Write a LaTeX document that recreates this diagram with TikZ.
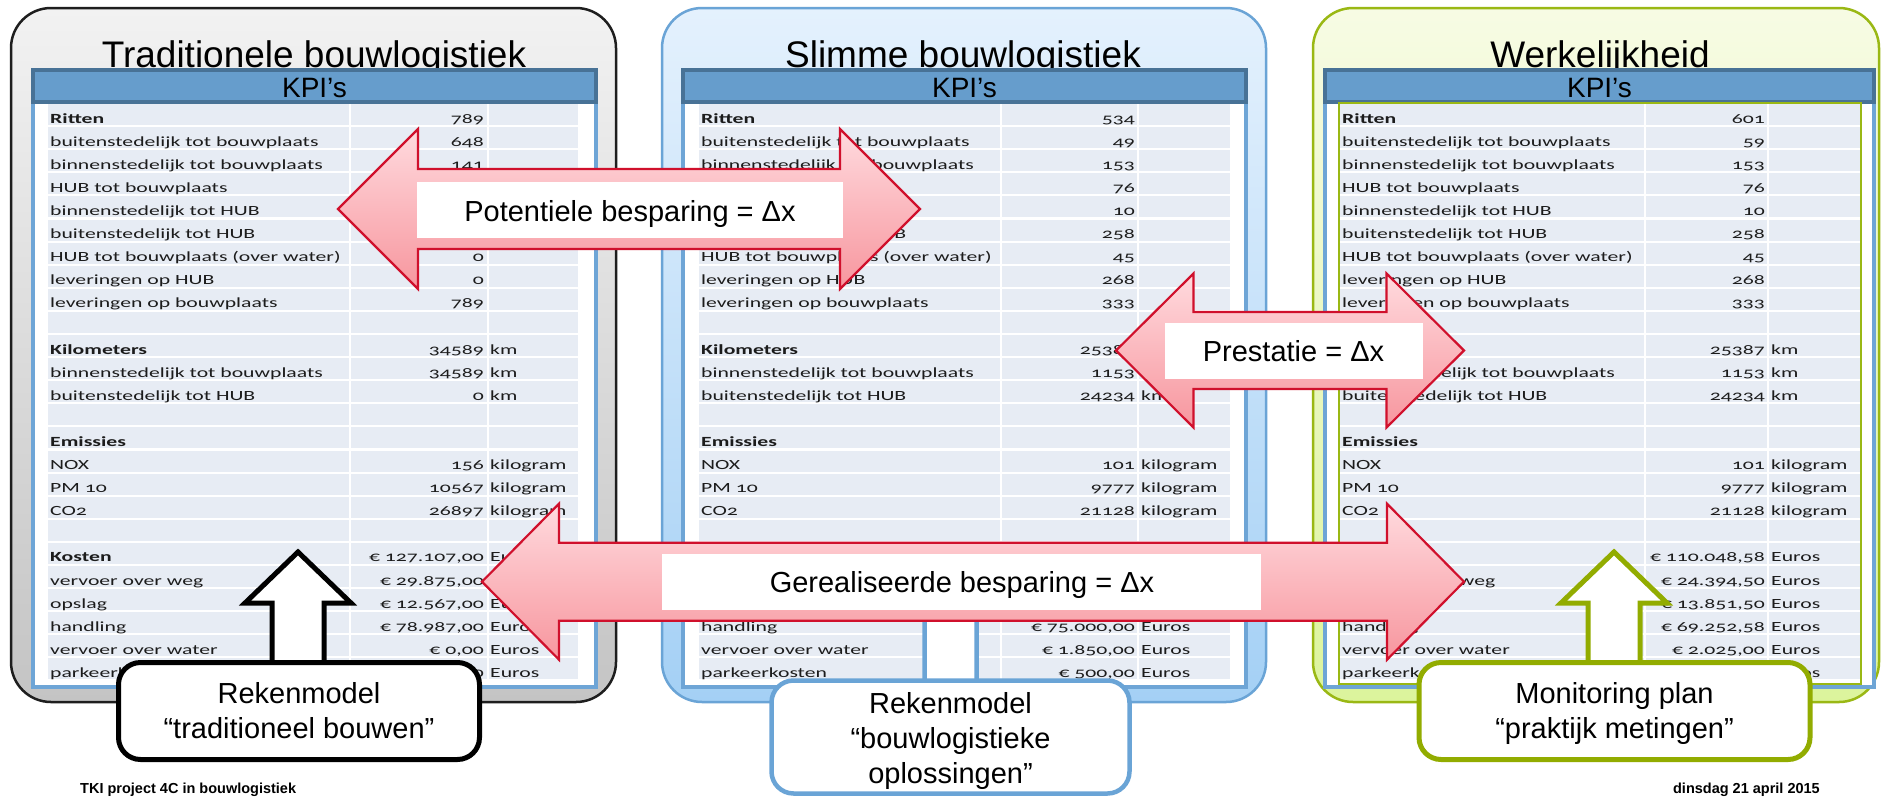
\documentclass[tikz,border=0pt]{standalone}
\usepackage{fontspec}
\setmainfont{Liberation Sans}
\newfontfamily\tblfont[FakeStretch=1.55,Numbers=OldStyle]{Carlito}
\definecolor{arrowred}{RGB}{208,16,44}
\definecolor{pinktop}{RGB}{255,218,222}
\definecolor{pinkbot}{RGB}{247,150,158}
\definecolor{grayedge}{RGB}{30,30,30}
\definecolor{graytop}{RGB}{242,242,242}
\definecolor{graybot}{RGB}{196,196,196}
\definecolor{bluetop}{RGB}{228,241,253}
\definecolor{bluebot}{RGB}{164,208,245}
\definecolor{blueedge}{RGB}{106,164,214}
\definecolor{greentop}{RGB}{247,251,228}
\definecolor{greenbot}{RGB}{220,244,156}
\definecolor{greenedge}{RGB}{154,184,20}
\definecolor{kpifill}{RGB}{102,157,204}
\definecolor{kpiedge}{RGB}{72,114,150}
\definecolor{frameblue}{RGB}{110,165,214}
\definecolor{rowfill}{RGB}{231,236,244}
\definecolor{tbltext}{RGB}{28,28,28}
\definecolor{boxgreen}{RGB}{146,172,0}
\tikzset{
  panel/.style={line width=2.5, rounded corners=40},
  paneltitle/.style={font=\fontsize{37}{40}\selectfont, anchor=base, inner sep=0},
  kpibar/.style={fill=kpifill, draw=kpiedge, line width=3.5},
  kpitext/.style={font=\fontsize{28}{30}\selectfont, anchor=base, inner sep=0},
  tblframe/.style={fill=white, draw=frameblue, line width=4.5},
  lbl/.style={font=\tblfont\fontsize{14}{16}\selectfont, text=tbltext, anchor=base west, inner sep=0},
  num/.style={font=\tblfont\fontsize{14}{16}\selectfont, text=tbltext, anchor=base east, inner sep=0},
  unit/.style={font=\tblfont\fontsize{14}{16}\selectfont, text=tbltext, anchor=base west, inner sep=0},
  dblarrow/.style={draw=arrowred, line width=2.2, top color=pinktop, bottom color=pinkbot, line join=miter},
  whitebox/.style={fill=white, draw=none, inner sep=0},
  arrowlabel/.style={font=\fontsize{29}{32}\selectfont, anchor=base, inner sep=0},
  uparrow/.style={fill=white, line width=5, line join=miter},
  infobox/.style={fill=white, line width=5, rounded corners=22, inner sep=0},
  boxtext/.style={font=\fontsize{29}{35}\selectfont, anchor=base, inner sep=0},
  footer/.style={font=\bfseries\fontsize{14.5}{16}\selectfont, inner sep=0},
}
% grid of table rows: x0, sep1, sep2, x3
\newcommand\kpigrid[4]{%
  \foreach \i in {0,...,24} {\fill[rowfill] (#1,{104+23.1*\i}) rectangle (#4,{104+23.1*\i+21});}
  \draw[white, line width=2.5] (#2,104) -- (#2,681) (#3,104) -- (#3,681);
}
% table row: prefix, index, label, number, unit
\newcommand\kr[5]{%
  \node[lbl] (#1#2l) at (\Lx,{123+23.1*#2}) {#3};
  \node[num] (#1#2n) at (\Nx,{123+23.1*#2}) {#4};
  \node[unit] (#1#2u) at (\Ux,{123+23.1*#2}) {#5};
}
% up arrow: centre x, colour, line width, bottom y
\newcommand\uparr[4]{%
  \draw[uparrow, draw=#2, line width=#3] (#1,552) -- (#1+53,603) -- (#1+26,603) -- (#1+26,#4) -- (#1-26,#4) -- (#1-26,603) -- (#1-53,603) -- cycle;
}
% double arrow: xl, xr, cy, head width, head half height, shaft half height
\newcommand\dblarr[6]{%
  \draw[dblarrow] (#1,#3) -- (#1+#4,#3-#5) -- (#1+#4,#3-#6) -- (#2-#4,#3-#6) -- (#2-#4,#3-#5) -- (#2,#3)
    -- (#2-#4,#3+#5) -- (#2-#4,#3+#6) -- (#1+#4,#3+#6) -- (#1+#4,#3+#5) -- cycle;
}
\begin{document}
\begin{tikzpicture}[x=1pt,y=-1pt]
\useasboundingbox (0,0) rectangle (1883,796);
\fill[white] (0,0) rectangle (1883,796);

% ---------- panels ----------
\draw[panel, draw=grayedge, top color=graytop, bottom color=graybot] (11,8) rectangle (616,702);
\draw[panel, draw=blueedge, top color=bluetop, bottom color=bluebot] (662,8) rectangle (1266,702);
\draw[panel, draw=greenedge, top color=greentop, bottom color=greenbot] (1313,8) rectangle (1879,702);

\node[paneltitle] (t1) at (314,67) {Traditionele bouwlogistiek};
\node[paneltitle] (t2) at (963,67) {Slimme bouwlogistiek};
\node[paneltitle] (t3) at (1600,67) {Werkelijkheid};

% ---------- frames and KPI bars ----------
\draw[tblframe] (33,90) rectangle (596,687);
\draw[kpibar] (33,70) rectangle (596,102);
\node[kpitext] (k1) at (314.5,97) {KPI’s};

\draw[tblframe] (683,90) rectangle (1246,687);
\draw[kpibar] (683,70) rectangle (1246,102);
\node[kpitext] (k2) at (964.5,97) {KPI’s};

\draw[tblframe] (1325,90) rectangle (1874,687);
\draw[kpibar] (1325,70) rectangle (1874,102);
\node[kpitext] (k3) at (1599.5,97) {KPI’s};

% ---------- left table ----------
\kpigrid{48}{350}{488}{578}
\def\Lx{50}\def\Nx{484}\def\Ux{490}
\kr{A}{0}{\textbf{Ritten}}{789}{}
\kr{A}{1}{buitenstedelijk tot bouwplaats}{648}{}
\kr{A}{2}{binnenstedelijk tot bouwplaats}{141}{}
\kr{A}{3}{HUB tot bouwplaats}{}{}
\kr{A}{4}{binnenstedelijk tot HUB}{}{}
\kr{A}{5}{buitenstedelijk tot HUB}{}{}
\kr{A}{6}{HUB tot bouwplaats (over water)}{0}{}
\kr{A}{7}{leveringen op HUB}{0}{}
\kr{A}{8}{leveringen op bouwplaats}{789}{}
\kr{A}{10}{\textbf{Kilometers}}{34589}{km}
\kr{A}{11}{binnenstedelijk tot bouwplaats}{34589}{km}
\kr{A}{12}{buitenstedelijk tot HUB}{0}{km}
\kr{A}{14}{\textbf{Emissies}}{}{}
\kr{A}{15}{NOX}{156}{kilogram}
\kr{A}{16}{PM 10}{10567}{kilogram}
\kr{A}{17}{CO2}{26897}{kilogram}
\kr{A}{19}{\textbf{Kosten}}{€ 127.107,00}{Euros}
\kr{A}{20}{vervoer over weg}{€ 29.875,00}{Euros}
\kr{A}{21}{opslag}{€ 12.567,00}{Euros}
\kr{A}{22}{handling}{€ 78.987,00}{Euros}
\kr{A}{23}{vervoer over water}{€ 0,00}{Euros}
\kr{A}{24}{parkeerkosten}{€ 5.678,00}{Euros}

% ---------- middle table ----------
\kpigrid{699}{1001}{1138}{1230}
\def\Lx{701}\def\Nx{1135}\def\Ux{1141}
\kr{B}{0}{\textbf{Ritten}}{534}{}
\kr{B}{1}{buitenstedelijk tot bouwplaats}{49}{}
\kr{B}{2}{binnenstedelijk tot bouwplaats}{153}{}
\kr{B}{3}{}{76}{}
\kr{B}{4}{}{10}{}
\kr{B}{5}{buitenstedelijk tot HUB}{258}{}
\kr{B}{6}{HUB tot bouwplaats (over water)}{45}{}
\kr{B}{7}{leveringen op HUB}{268}{}
\kr{B}{8}{leveringen op bouwplaats}{333}{}
\kr{B}{10}{\textbf{Kilometers}}{25387}{km}
\kr{B}{11}{binnenstedelijk tot bouwplaats}{1153}{km}
\kr{B}{12}{buitenstedelijk tot HUB}{24234}{km}
\kr{B}{14}{\textbf{Emissies}}{}{}
\kr{B}{15}{NOX}{101}{kilogram}
\kr{B}{16}{PM 10}{9777}{kilogram}
\kr{B}{17}{CO2}{21128}{kilogram}
\kr{B}{22}{handling}{€ 75.000,00}{Euros}
\kr{B}{23}{vervoer over water}{€ 1.850,00}{Euros}
\kr{B}{24}{parkeerkosten}{€ 500,00}{Euros}

% ---------- right table ----------
\kpigrid{1340}{1645}{1768}{1860}
\draw[greenedge, line width=2] (1338.5,103) rectangle (1861,684);
\def\Lx{1342}\def\Nx{1765}\def\Ux{1771}
\kr{C}{0}{\textbf{Ritten}}{601}{}
\kr{C}{1}{buitenstedelijk tot bouwplaats}{59}{}
\kr{C}{2}{binnenstedelijk tot bouwplaats}{153}{}
\kr{C}{3}{HUB tot bouwplaats}{76}{}
\kr{C}{4}{binnenstedelijk tot HUB}{10}{}
\kr{C}{5}{buitenstedelijk tot HUB}{258}{}
\kr{C}{6}{HUB tot bouwplaats (over water)}{45}{}
\kr{C}{7}{leveringen op HUB}{268}{}
\kr{C}{8}{leveringen op bouwplaats}{333}{}
\kr{C}{10}{}{25387}{km}
\kr{C}{11}{binnenstedelijk tot bouwplaats}{1153}{km}
\kr{C}{12}{buitenstedelijk tot HUB}{24234}{km}
\kr{C}{14}{\textbf{Emissies}}{}{}
\kr{C}{15}{NOX}{101}{kilogram}
\kr{C}{16}{PM 10}{9777}{kilogram}
\kr{C}{17}{CO2}{21128}{kilogram}
\kr{C}{19}{}{€ 110.048,58}{Euros}
\kr{C}{20}{vervoer over weg}{€ 24.394,50}{Euros}
\kr{C}{21}{}{€ 13.851,50}{Euros}
\kr{C}{22}{handling}{€ 69.252,58}{Euros}
\kr{C}{23}{vervoer over water}{€ 2.025,00}{Euros}
\kr{C}{24}{parkeerkosten}{€ 525,00}{Euros}

% ---------- up arrows ----------
\uparr{298}{black}{5}{664}
\uparr{950.5}{blueedge}{4.5}{682}
\uparr{1614}{boxgreen}{5}{664}

% ---------- horizontal double arrows ----------
\dblarr{338}{920}{209}{80}{80}{40}
\node[whitebox, minimum width=426, minimum height=56] (pbox) at (630,210) {};
\node[arrowlabel] (plab) at (630,221.5) {Potentiele besparing = Δx};

\dblarr{1116}{1464}{350.5}{77.5}{77}{38.5}
\node[whitebox, minimum width=258.5, minimum height=56.5] (prbox) at (1293.75,351) {};
\node[arrowlabel] (prlab) at (1293.5,361.5) {Prestatie = Δx};

\dblarr{482}{1464}{581.7}{77}{78}{39}
\node[whitebox, minimum width=599, minimum height=56] (gbox) at (961.5,582) {};
\node[arrowlabel] (glab) at (962,592.5) {Gerealiseerde besparing = Δx};

% ---------- bottom boxes ----------
\node[infobox, draw=black, minimum width=361, minimum height=97] (bx1) at (299,711) {};
\node[boxtext] (bx1a) at (299,703) {Rekenmodel};
\node[boxtext] (bx1b) at (299,738) {“traditioneel bouwen”};

\node[infobox, draw=blueedge, line width=4.5, minimum width=358, minimum height=113] (bx2) at (950.5,737) {};
\node[boxtext] (bx2a) at (950.5,713) {Rekenmodel};
\node[boxtext] (bx2b) at (950.5,748) {“bouwlogistieke};
\node[boxtext] (bx2c) at (950.5,783) {oplossingen”};

\node[infobox, draw=boxgreen, minimum width=391, minimum height=97] (bx3) at (1614.5,711) {};
\node[boxtext] (bx3a) at (1614.5,703) {Monitoring plan};
\node[boxtext] (bx3b) at (1614.5,738) {“praktijk metingen”};

% ---------- footers ----------
\node[footer, anchor=base west] (f1) at (80,793) {TKI project 4C in bouwlogistiek};
\node[footer, anchor=base east] (f2) at (1820,793) {dinsdag 21 april 2015};
\end{tikzpicture}
\end{document}
